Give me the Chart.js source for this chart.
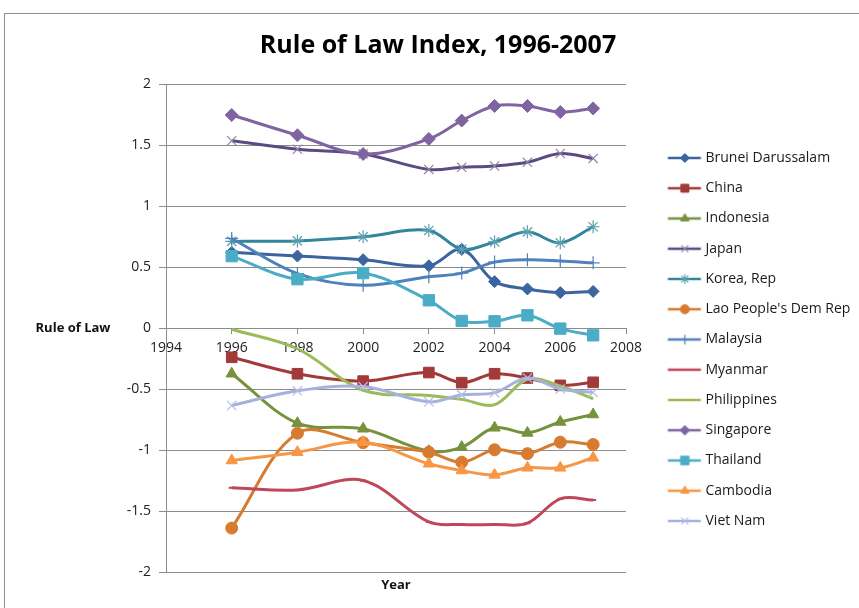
<!DOCTYPE html>
<html><head><meta charset="utf-8">
<script src="https://cdn.jsdelivr.net/npm/chart.js@4.4.1/dist/chart.umd.min.js"></script>
<style>
html,body{margin:0;padding:0;background:#fff;}
#wrap{position:relative;width:859px;height:608px;overflow:hidden;background:#fff;}
#frame{position:absolute;left:4px;top:13px;width:900px;height:700px;border:1px solid #8e8e8e;box-sizing:border-box;}
canvas{position:absolute;left:0;top:0;}
</style></head><body>
<div id="wrap"><div id="frame"></div><canvas id="c" width="859" height="608"></canvas></div>
<script>
const chartTitle = 'Rule of Law Index, 1996-2007';
const yAxisTitle = 'Rule of Law';
const xAxisTitle = 'Year';
const years = [1996, 1998, 2000, 2002, 2003, 2004, 2005, 2006, 2007];
const countries = ['Brunei Darussalam','China','Indonesia','Japan','Korea, Rep',"Lao People's Dem Rep",'Malaysia','Myanmar','Philippines','Singapore','Thailand','Cambodia','Viet Nam'];
const brunei      = [0.62, 0.59, 0.56, 0.51, 0.645, 0.38, 0.32, 0.29, 0.30];
const china       = [-0.24, -0.375, -0.435, -0.365, -0.448, -0.375, -0.41, -0.47, -0.445];
const indonesia   = [-0.375, -0.78, -0.826, -1.01, -0.977, -0.818, -0.86, -0.77, -0.709];
const japan       = [1.535, 1.465, 1.426, 1.30, 1.317, 1.328, 1.358, 1.43, 1.39];
const korea       = [0.71, 0.714, 0.747, 0.80, 0.646, 0.706, 0.788, 0.698, 0.83];
const lao         = [-1.64, -0.862, -0.94, -1.018, -1.10, -0.998, -1.03, -0.936, -0.955];
const malaysia    = [0.734, 0.446, 0.35, 0.42, 0.45, 0.54, 0.56, 0.55, 0.534];
const myanmar     = [-1.31, -1.327, -1.25, -1.59, -1.61, -1.61, -1.60, -1.40, -1.41];
const philippines = [-0.01, -0.17, -0.51, -0.553, -0.585, -0.628, -0.42, -0.475, -0.58];
const singapore   = [1.746, 1.58, 1.426, 1.55, 1.70, 1.82, 1.82, 1.77, 1.80];
const thailand    = [0.589, 0.40, 0.45, 0.227, 0.058, 0.055, 0.104, -0.005, -0.06];
const cambodia    = [-1.086, -1.018, -0.936, -1.113, -1.168, -1.204, -1.146, -1.146, -1.064];
const vietnam     = [-0.635, -0.515, -0.48, -0.605, -0.548, -0.53, -0.41, -0.50, -0.528];
const xTickLabels = ['1994','1996','1998','2000','2002','2004','2006','2008'];
const yTickLabels = ['-2','-1.5','-1','-0.5','0','0.5','1','1.5','2'];

const seriesValues = [brunei, china, indonesia, japan, korea, lao, malaysia, myanmar, philippines, singapore, thailand, cambodia, vietnam];
const styles = [
  {c:'#3b64a0', ps:'rectRot', r:6, pb:'#3b64a0', pf:'#3b64a0', bw:1},
  {c:'#a33a3a', ps:'rect', r:7.5, pb:'#a33a3a', pf:'#a33a3a', bw:1},
  {c:'#76923c', ps:'triangle', r:6.5, pb:'#76923c', pf:'#76923c', bw:1},
  {c:'#5c4a82', ps:'crossRot', r:6.5, pb:'#8f85a8', pf:'#8f85a8', bw:1.2},
  {c:'#31869b', ps:'star', r:6.5, pb:'#5aa0b0', pf:'#5aa0b0', bw:1.2},
  {c:'#d67b30', ps:'circle', r:6, pb:'#d67b30', pf:'#d67b30', bw:1},
  {c:'#4f81bd', ps:'cross', r:6.5, pb:'#4f81bd', pf:'#4f81bd', bw:1.2},
  {c:'#c0465a', ps:'line', r:3, pb:'#c0465a', pf:'#c0465a', bw:2},
  {c:'#9bbb59', ps:'circle', r:0, pb:'#9bbb59', pf:'#9bbb59', bw:0},
  {c:'#8064a2', ps:'rectRot', r:6.5, pb:'#8064a2', pf:'#8064a2', bw:1},
  {c:'#4bacc6', ps:'rect', r:8, pb:'#4bacc6', pf:'#4bacc6', bw:1},
  {c:'#f79646', ps:'triangle', r:6.5, pb:'#f79646', pf:'#f79646', bw:1},
  {c:'#a6b2dd', ps:'crossRot', r:6.5, pb:'#b4bde2', pf:'#b4bde2', bw:1.2}
];

const datasets = countries.map((name, i) => ({
  label: name,
  data: years.map((yr, j) => ({x: yr, y: seriesValues[i][j]})),
  borderColor: styles[i].c,
  backgroundColor: styles[i].c,
  borderWidth: 3,
  tension: 0.35,
  pointStyle: styles[i].ps,
  pointRadius: styles[i].r,
  pointHoverRadius: styles[i].r,
  pointBorderColor: styles[i].pb,
  pointBackgroundColor: styles[i].pf,
  pointBorderWidth: styles[i].bw,
  order: -i
}));

const FONT = "'Open Sans', 'DejaVu Sans', sans-serif";
Chart.defaults.font.family = FONT;
Chart.defaults.color = '#222';

function legendImage(i) {
  const s = styles[i];
  const cv = document.createElement('canvas');
  cv.width = 68; cv.height = 18;
  const ctx = cv.getContext('2d');
  ctx.strokeStyle = s.c; ctx.lineWidth = 2.5;
  ctx.beginPath(); ctx.moveTo(31.5, 9); ctx.lineTo(64.5, 9); ctx.stroke();
  if (s.r > 0) {
    ctx.fillStyle = s.pf; ctx.strokeStyle = s.pb; ctx.lineWidth = s.bw;
    Chart.helpers.drawPoint(ctx, {pointStyle: s.ps, radius: s.r * 0.75, borderWidth: s.bw, rotation: 0}, 48.5, 9);
  }
  return cv;
}
const legendImgs = countries.map((_, i) => legendImage(i));

const legendFontSize = 14;
const legendPad = 16.25;
const legendBoxW = 56.25;
const legendTarget = 233;
const mctx = document.createElement('canvas').getContext('2d');
mctx.font = legendFontSize + 'px ' + FONT;
const maxTextW = Math.max(...countries.map(t => mctx.measureText(t).width));
const legendW = legendPad + legendBoxW + legendFontSize / 2 + maxTextW + 10;
const padRight = Math.max(0, legendTarget - legendW);
const padLeft = 17 + padRight;

const axisTitles = {
  id: 'axisTitles',
  afterDraw(chart) {
    const {ctx, chartArea, scales} = chart;
    ctx.save();
    ctx.font = 'bold 13px ' + FONT;
    ctx.fillStyle = '#111';
    ctx.textAlign = 'center';
    ctx.textBaseline = 'middle';
    ctx.fillText(yAxisTitle, 73, scales.y.getPixelForValue(0));
    ctx.fillText(xAxisTitle, (chartArea.left + chartArea.right) / 2, 585);
    ctx.restore();
  }
};

new Chart(document.getElementById('c'), {
  type: 'line',
  data: {datasets},
  options: {
    responsive: false,
    animation: false,
    devicePixelRatio: 1,
    layout: {padding: {left: padLeft, right: padRight, top: 0, bottom: 36}},
    scales: {
      x: {
        type: 'linear',
        position: {y: 0},
        min: 1994, max: 2008,
        ticks: {stepSize: 2, color: '#222', font: {size: 14}, padding: 7, maxRotation: 0,
          callback: (v, i) => xTickLabels[i]},
        grid: {drawOnChartArea: false, drawTicks: true, tickLength: 5, color: '#8c8c8c'},
        border: {display: true, color: '#8c8c8c', width: 1}
      },
      y: {
        type: 'linear',
        min: -2, max: 2,
        afterFit(s) { s.width = 166 - padLeft; },
        ticks: {stepSize: 0.5, color: '#222', font: {size: 14}, padding: 8,
          callback: (v, i) => yTickLabels[i]},
        grid: {color: '#8c8c8c', tickLength: 7, lineWidth: 1},
        border: {display: true, color: '#8c8c8c', width: 1}
      }
    },
    plugins: {
      title: {display: true, text: chartTitle, color: '#000',
        font: {size: 25, weight: 'bold', lineHeight: 1.2},
        padding: {top: 31, bottom: 23}},
      legend: {
        position: 'right',
        fullSize: false,
        maxWidth: legendTarget,
        title: {display: true, text: '', font: {size: 10, lineHeight: 1.2}, padding: 5.5},
        labels: {
          usePointStyle: true,
          pointStyleWidth: legendBoxW,
          padding: legendPad,
          color: '#1a1a1a',
          font: {size: legendFontSize},
          generateLabels: (chart) => chart.data.datasets.map((ds, i) => ({
            text: ds.label, pointStyle: legendImgs[i], fillStyle: 'rgba(0,0,0,0)',
            strokeStyle: 'rgba(0,0,0,0)', lineWidth: 0, hidden: false, datasetIndex: i, fontColor: '#1a1a1a'
          }))
        }
      },
      tooltip: {enabled: false}
    }
  },
  plugins: [axisTitles]
});
</script>
</body></html>
